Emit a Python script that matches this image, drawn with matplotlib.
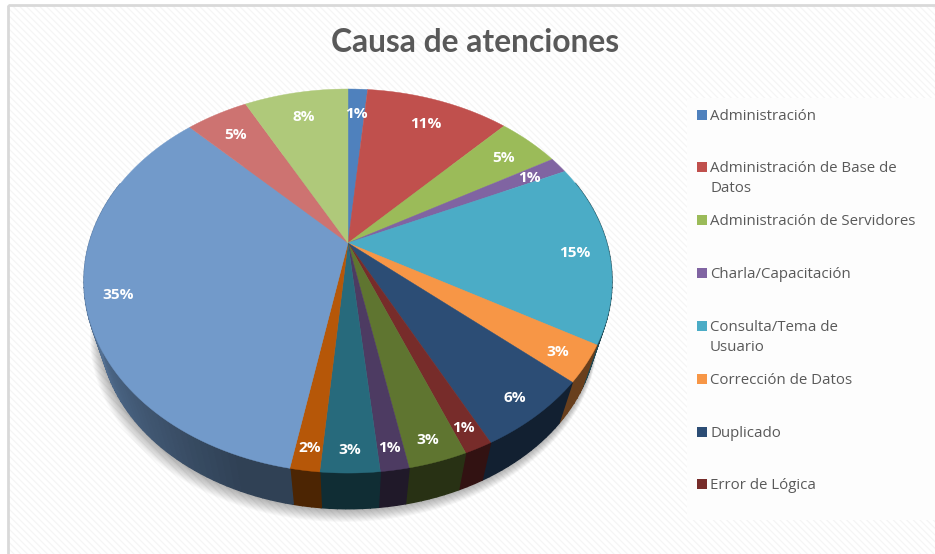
import numpy as np
import matplotlib
matplotlib.use("Agg")
import matplotlib.pyplot as plt
from matplotlib.patches import Rectangle

title = "Causa de atenciones"
shares = [1.45, 10.65, 4.6, 1.4, 15.2, 3.1, 6.1, 1.45, 3.0, 1.45, 3.0, 1.5, 34.8, 4.6, 7.7]
labels = ["1%", "11%", "5%", "1%", "15%", "3%", "6%", "1%", "3%", "1%", "3%", "2%", "35%", "5%", "8%"]
colors = ["#4f81bd", "#c0504d", "#9bbb59", "#8064a2", "#4bacc6", "#f79646", "#2c4d75", "#772c2a",
          "#5f7530", "#4d3b62", "#276a7c", "#b65708", "#729aca", "#cd7371", "#afc97a"]
legend_names = ["Administración", "Administración de Base de\nDatos", "Administración de Servidores",
                "Charla/Capacitación", "Consulta/Tema de\nUsuario", "Corrección de Datos",
                "Duplicado", "Error de Lógica"]

plt.rcParams['hatch.linewidth'] = 0.9
plt.rcParams['hatch.color'] = '#f5f5f5'
FONT = "Open Sans"

fig = plt.figure(figsize=(9.35, 5.54), dpi=100, facecolor="white")
ax = fig.add_axes([0, 0, 1, 1])
ax.set_xlim(0, 935)
ax.set_ylim(554, 0)
ax.axis("off")

# frame and textured background
ax.add_patch(Rectangle((8, 5), 940, 560, facecolor="white", edgecolor="#f5f5f5", lw=0,
                       hatch="\\\\\\\\\\", zorder=0))
ax.add_patch(Rectangle((8, 5), 940, 560, facecolor="none", edgecolor="#d9d9d9", lw=2, zorder=0.5))
ax.add_patch(Rectangle((687, 98), 260, 422, facecolor="#fdfdfd", edgecolor="none", zorder=1))

# perspective projection of the pie disc
CX, CY = 348.0, 243.0
A, B, K = 258.8, 184.5, 0.198
BOTTOM_CY, BOTTOM_S = 292.5, 0.94


def project(theta, r=1.0):
    x = r * np.sin(theta)
    y = r * np.cos(theta)
    d = 1 + K * y
    return CX + A * x / d, CY - B * y / d


def project_low(theta):
    px, py = project(theta)
    return CX + (px - CX) * BOTTOM_S, BOTTOM_CY + (py - CY) * BOTTOM_S


def shade(theta):
    deg = np.degrees(theta)
    if deg <= 200:
        return 0.42
    return min(0.42 + (deg - 200) / 65 * 0.4, 0.82)


fractions = np.array(shares) / np.sum(shares)
edges = np.concatenate([[0], np.cumsum(fractions)]) * 2 * np.pi

# soft shadow
tt = np.linspace(0, 2 * np.pi, 361)
lx, ly = project_low(tt)
for grow in range(1, 15):
    ax.fill(CX + (lx - CX) * (1 + grow * 0.0016) - grow * 0.3,
            BOTTOM_CY + (ly - BOTTOM_CY) * (1 + grow * 0.0016) + grow * 0.6,
            color="#000000", alpha=0.024, lw=0, zorder=2)

# side walls
for i, col in enumerate(colors):
    rgb = np.array(matplotlib.colors.to_rgb(col))
    steps = max(2, int((edges[i + 1] - edges[i]) / np.radians(1.5)))
    th = np.linspace(edges[i], edges[i + 1], steps + 1)
    for a, b in zip(th[:-1], th[1:]):
        if np.cos((a + b) / 2) > 0.35:
            continue
        ta = np.array([a, b])
        ux, uy = project(ta)
        dx, dy = project_low(ta)
        ax.fill(np.r_[ux, dx[::-1]], np.r_[uy, dy[::-1]], color=rgb * shade((a + b) / 2),
                lw=1.0, zorder=3)

# top surface
for i, col in enumerate(colors):
    th = np.linspace(edges[i], edges[i + 1], 80)
    px, py = project(th)
    ax.fill(np.r_[CX, px], np.r_[CY, py], color=col, lw=0.3, zorder=4)

# data labels
for i, lab in enumerate(labels):
    mid = (edges[i] + edges[i + 1]) / 2
    px, py = project(mid, 0.87 - 0.04 * np.cos(mid))
    ax.text(px, py + 2.5, lab, color="white", fontsize=11.1, fontweight="bold", family=FONT,
            ha="center", va="center", zorder=5)

ax.text(475.5, 43, title, color="#595959", fontsize=22.9, fontweight="bold", family="Lato",
        ha="center", va="center", zorder=5)

# legend
for i, name in enumerate(legend_names):
    y = 114.5 + i * 52.85
    ax.plot([701.5], [y], marker="s", ms=7.2, mew=0, color=colors[i], zorder=5)
    ax.text(710, y - 6, name, color="#595959", fontsize=10.8, family=FONT, ha="left", va="top",
            linespacing=1.45, zorder=5)

fig.savefig("out.png", dpi=100)
